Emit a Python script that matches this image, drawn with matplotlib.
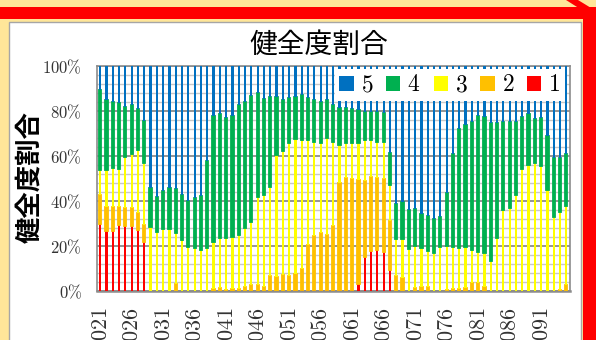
import matplotlib
matplotlib.use('Agg')
import matplotlib.pyplot as plt
from matplotlib.patches import Patch, Rectangle, Polygon
import numpy as np

plt.rcParams['font.family'] = ['Noto Sans CJK JP', 'DejaVu Sans']
plt.rcParams['mathtext.fontset'] = 'cm'

# ---------------- data ----------------
categories = [f'20{n:02d}' for n in range(21, 96)]   # 75 categories, 2021 .. 2095

rank1 = [30.0, 26.8, 26.8, 29.3, 29.0, 29.0, 27.1, 21.9, 0, 0,
         0, 0, 0, 0, 0, 0, 0, 0, 0, 0,
         0, 0, 0, 0, 0, 0, 0, 0, 0, 0,
         0, 0.5, 0.5, 0.5, 0.5, 0.5, 0.5, 0.5, 0.5, 0.5,
         0.5, 3.0, 15.0, 17.9, 18.2, 17.5, 9.3, 0, 0, 0,
         0, 0, 0, 0, 0, 0, 0, 0, 0, 0,
         0, 0, 0, 0, 0, 0, 0, 0, 0, 0,
         0, 0, 0, 0, 0]
rank2 = [12.7, 10.7, 10.7, 8.2, 7.7, 7.7, 7.4, 7.4, 0, 0,
         0, 0, 3.0, 0, 0, 0, 0, 0, 1.1, 1.5,
         0.5, 0.7, 1.0, 1.8, 2.6, 2.8, 2.0, 6.7, 6.4, 7.2,
         6.7, 7.1, 9.1, 20.1, 23.9, 25.1, 24.4, 28.5, 47.4, 49.6,
         49.1, 46.3, 34.0, 32.6, 31.9, 32.3, 21.7, 6.5, 5.8, 0,
         1.3, 1.7, 1.7, 0, 0, 0.4, 0.8, 0.8, 1.5, 3.7,
         3.4, 1.9, 0, 0, 0, 0, 0, 0, 0, 0,
         0, 0, 0, 0.4, 2.7]
rank3 = [11.1, 16.3, 17.0, 16.6, 22.7, 24.2, 28.2, 27.7, 28.6, 26.4,
         27.6, 27.6, 22.9, 22.7, 19.4, 19.0, 18.2, 19.0, 20.8, 21.9,
         22.9, 23.4, 23.9, 26.2, 28.2, 39.1, 40.7, 39.7, 54.0, 55.2,
         59.2, 59.8, 57.5, 46.5, 42.0, 40.3, 43.0, 37.4, 17.0, 15.8,
         16.0, 16.3, 18.1, 16.6, 16.3, 16.6, 16.1, 16.7, 17.2, 18.5,
         18.7, 17.6, 16.3, 17.0, 19.5, 19.6, 18.7, 18.2, 18.0, 14.5,
         13.8, 14.9, 13.3, 23.4, 36.0, 36.7, 42.7, 54.1, 56.0, 56.7,
         55.6, 44.7, 33.0, 34.8, 34.9]
rank4 = [35.5, 31.1, 29.6, 29.3, 22.5, 21.8, 18.0, 18.6, 17.0, 15.5,
         17.0, 18.3, 19.4, 20.0, 20.7, 22.2, 24.0, 38.9, 55.9, 55.3,
         53.3, 53.7, 57.8, 56.1, 55.9, 46.0, 42.5, 40.0, 25.7, 22.5,
         19.7, 19.0, 20.0, 18.5, 18.5, 18.2, 17.0, 16.3, 16.3, 15.3,
         15.1, 14.8, 12.6, 12.6, 13.3, 12.6, 14.4, 15.3, 16.7, 17.5,
         16.4, 14.9, 15.3, 14.9, 13.5, 23.7, 41.4, 52.9, 54.3, 57.0,
         60.6, 60.7, 61.2, 51.1, 39.2, 38.5, 32.3, 23.1, 22.7, 19.6,
         21.1, 24.1, 25.9, 24.0, 23.1]
rank5 = [10.7, 15.1, 15.9, 16.6, 18.1, 17.3, 19.3, 24.4, 54.4, 58.1,
         55.4, 54.1, 54.7, 57.3, 59.9, 58.8, 57.8, 42.1, 22.2, 21.3,
         23.3, 22.2, 17.3, 15.9, 13.3, 12.1, 14.8, 13.6, 13.9, 15.1,
         14.4, 13.6, 12.9, 14.4, 15.1, 15.9, 15.1, 17.3, 18.8, 18.8,
         19.3, 19.6, 20.3, 20.3, 20.3, 21.0, 38.5, 61.5, 60.3, 64.0,
         63.6, 65.8, 66.7, 68.1, 67.0, 56.3, 39.1, 28.1, 26.2, 24.8,
         22.2, 22.5, 25.5, 25.5, 24.8, 24.8, 25.0, 22.8, 21.3, 23.7,
         23.3, 31.2, 41.1, 40.8, 39.3]

series_names = ['1', '2', '3', '4', '5']
series_colors = ['#FF0000', '#FFC000', '#FFFF00', '#00B050', '#0070C0']
ytick_values = [0, 20, 40, 60, 80, 100]
ytick_labels = [r'$0\%$', r'$20\%$', r'$40\%$', r'$60\%$', r'$80\%$', r'$100\%$']
title_text = '健全度割合'
ylabel_text = '健全度割合'

# ---------------- figure ----------------
W, H = 596, 340
fig = plt.figure(figsize=(W / 100, H / 100), dpi=100)
fig.patch.set_facecolor('#FFE699')

# white chart area with thin gray border
fig.patches.append(Rectangle((9 / W, -0.05), (581 - 9) / W, (1 - 22 / H) + 0.05,
                             transform=fig.transFigure, facecolor='white',
                             edgecolor='#A6A6A6', lw=1.0, zorder=-10))
# red frame pieces
fig.patches.append(Rectangle((0, 1 - 19 / H), 1, 12 / H, transform=fig.transFigure,
                             facecolor='#FF0000', edgecolor='none', zorder=-5))
fig.patches.append(Rectangle((583 / W, 0), 13 / W, 1 - 7 / H, transform=fig.transFigure,
                             facecolor='#FF0000', edgecolor='none', zorder=-5))
fig.patches.append(Polygon([(566 / W, 1), (578 / W, 1), (1, 1 - 11 / H), (1, 1 - 19 / H)],
                           closed=True, transform=fig.transFigure,
                           facecolor='#FF0000', edgecolor='none', zorder=-5))

ax = fig.add_axes([97 / W, 49 / H, 472.5 / W, 225 / H])
ax.set_zorder(5)
ax.set_facecolor('none')

x = np.arange(len(categories))
series = [rank1, rank2, rank3, rank4, rank5]
bottom = np.zeros(len(categories))
for name, vals, col in zip(series_names, series, series_colors):
    vals = np.array(vals, dtype=float)
    if name in ('2', '4'):
        ax.bar(x, vals, bottom=bottom, width=0.36, color=col, edgecolor=col,
               linewidth=1.3, zorder=3)
    else:
        ax.bar(x, vals, bottom=bottom, width=0.36, color=col, linewidth=0, zorder=3)
    bottom += vals

ax.set_xlim(-0.5, len(categories) - 0.5)
ax.set_ylim(0, 100)

ax.set_yticks(ytick_values)
ax.set_yticklabels(ytick_labels)
ax.set_yticks(np.arange(0, 101, 4), minor=True)
ax.set_xticks(x[::5])
ax.set_xticklabels([r'$' + categories[i] + r'$' for i in x[::5]], rotation=90)

ax.tick_params(axis='both', which='both', length=0)
ax.tick_params(axis='y', pad=11, labelsize=12, labelcolor='#333333')
ax.tick_params(axis='x', pad=12, labelsize=16, labelcolor='#333333')

ax.set_axisbelow(True)
ax.grid(axis='y', which='major', color='#8C8C8C', lw=1.3, zorder=0)
ax.grid(axis='y', which='minor', color='#C8C8C8', lw=1.0, zorder=0)
ax.grid(axis='x', visible=False)
for s in ax.spines.values():
    s.set_color('#8C8C8C')
    s.set_linewidth(1.2)
ax.spines['bottom'].set_linewidth(1.8)

handles = [Patch(facecolor=c, edgecolor='none') for c in series_colors[::-1]]
labels = [r'$' + n + r'$' for n in series_names[::-1]]
leg = ax.legend(handles, labels, ncol=5, loc='center', bbox_to_anchor=(0.747, 0.916),
                fontsize=17, frameon=True, facecolor='white', edgecolor='none',
                framealpha=1, fancybox=False, handlelength=0.6, handleheight=0.6,
                handletextpad=0.3, columnspacing=0.55, borderpad=0.2, borderaxespad=0)
leg.set_zorder(10)

fig.text(319 / W, 1 - 45 / H, title_text, fontsize=20, ha='center', va='center')
fig.text(30 / W, 1 - 177.5 / H, ylabel_text, fontsize=19, fontweight='bold',
         rotation=90, ha='center', va='center')

fig.savefig('out.png', dpi=100, facecolor=fig.get_facecolor())
